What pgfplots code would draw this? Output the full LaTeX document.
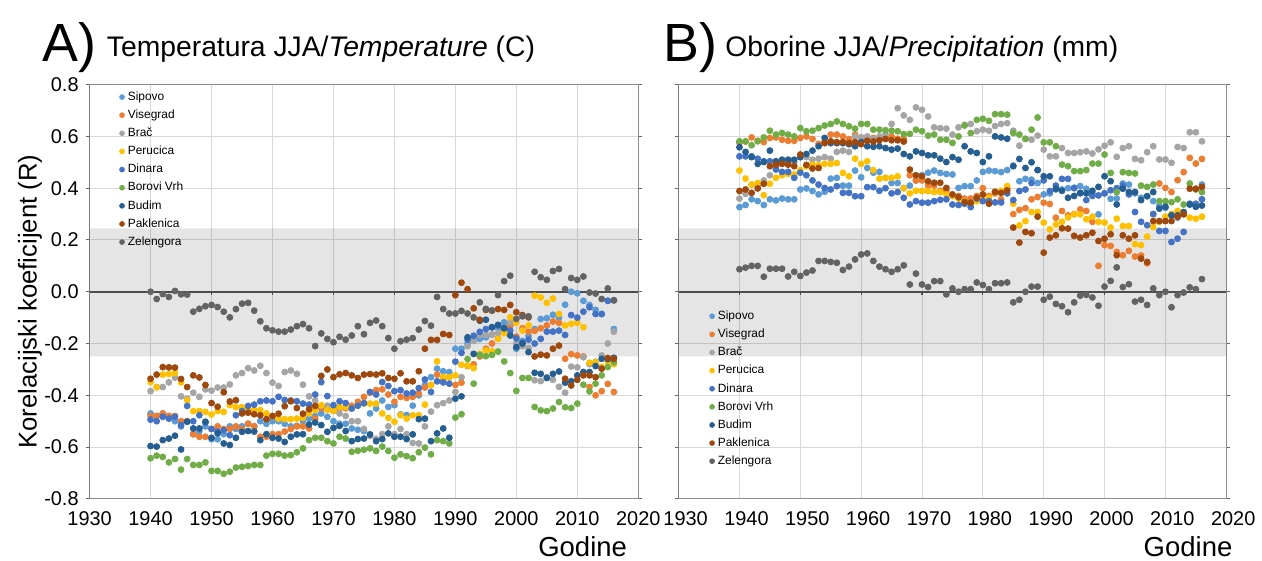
\documentclass[border=0pt]{standalone}
\usepackage{fontspec}
\setmainfont{Liberation Sans}
\usepackage{pgfplots}
\usepackage{pgfplotstable}
\pgfplotsset{compat=1.18}

\definecolor{csip}{HTML}{5B9BD5}
\definecolor{cvis}{HTML}{ED7D31}
\definecolor{cbra}{HTML}{A5A5A5}
\definecolor{cper}{HTML}{FFC000}
\definecolor{cdin}{HTML}{4472C4}
\definecolor{cbor}{HTML}{70AD47}
\definecolor{cbud}{HTML}{255E91}
\definecolor{cpak}{HTML}{9E480E}
\definecolor{czel}{HTML}{636363}
\definecolor{gridc}{HTML}{D9D9D9}

% A) temperature JJA
\pgfplotstableread{
year sip vis bra per din bor bud pak zel
1940 -.47 -.48 -.384 -.349 -.494 -.643 -.596 -.336 0.00
1941 -.48 -.48 -.368 -.369 -.50 -.633 -.598 -.32 -.028
1942 -.47 -.47 -.368 -.32 -.483 -.638 -.573 -.291 -.009
1943 -.48 -.48 -.35 -.318 -.49 -.659 -.567 -.292 -.02
1944 -.50 -.48 -.332 -.314 -.483 -.646 -.556 -.293 .003
1945 -.52 -.50 -.404 -.35 -.515 -.687 -.609 -.337 -.01
1946 -.50 -.50 -.413 -.419 -.441 -.646 -.502 -.368 -.011
1947 -.55 -.55 -.39 -.461 -.50 -.669 -.528 -.323 -.077
1948 -.54 -.56 -.406 -.461 -.477 -.669 -.528 -.331 -.066
1949 -.52 -.56 -.377 -.464 -.505 -.659 -.502 -.36 -.056
1950 -.57 -.53 -.382 -.474 -.53 -.692 -.564 -.43 -.051
1951 -.57 -.52 -.37 -.461 -.54 -.692 -.547 -.444 -.059
1952 -.55 -.53 -.37 -.464 -.535 -.703 -.586 -.388 -.077
1953 -.52 -.53 -.358 -.438 -.554 -.695 -.592 -.424 -.099
1954 -.53 -.52 -.323 -.446 -.477 -.679 -.564 -.419 -.067
1955 -.52 -.53 -.314 -.446 -.461 -.676 -.541 -.47 -.046
1956 -.51 -.51 -.295 -.451 -.441 -.673 -.538 -.467 -.043
1957 -.52 -.52 -.304 -.457 -.436 -.669 -.54 -.473 -.073
1958 -.50 -.56 -.286 -.457 -.423 -.669 -.573 -.477 -.114
1959 -.51 -.56 -.314 -.47 -.42 -.633 -.55 -.492 -.141
1960 -.50 -.55 -.351 -.48 -.423 -.626 -.564 -.48 -.149
1961 -.50 -.55 -.364 -.49 -.406 -.626 -.567 -.471 -.154
1962 -.51 -.54 -.31 -.492 -.418 -.633 -.58 -.442 -.154
1963 -.52 -.53 -.304 -.492 -.42 -.631 -.56 -.423 -.146
1964 -.518 -.52 -.317 -.49 -.423 -.62 -.551 -.449 -.133
1965 -.50 -.52 -.359 -.487 -.432 -.605 -.55 -.471 -.125
1966 -.49 -.528 -.404 -.47 -.436 -.573 -.513 -.454 -.141
1967 -.48 -.49 -.42 -.457 -.397 -.564 -.505 -.441 -.21
1968 -.47 -.45 -.44 -.438 -.349 -.564 -.515 -.325 -.161
1969 -.483 -.45 -.44 -.456 -.403 -.577 -.541 -.30 -.182
1970 -.50 -.46 -.46 -.46 -.438 -.586 -.526 -.33 -.195
1971 -.51 -.45 -.47 -.445 -.423 -.56 -.518 -.319 -.174
1972 -.51 -.45 -.48 -.445 -.43 -.567 -.538 -.314 -.185
1973 -.528 -.44 -.50 -.451 -.451 -.618 -.577 -.323 -.169
1974 -.533 -.425 -.50 -.44 -.44 -.614 -.569 -.333 -.133
1975 -.538 -.406 -.53 -.432 -.43 -.61 -.567 -.32 -.164
1976 -.47 -.39 -.557 -.432 -.387 -.605 -.551 -.318 -.12
1977 -.451 -.38 -.568 -.432 -.397 -.615 -.577 -.32 -.111
1978 -.42 -.377 -.55 -.47 -.349 -.598 -.569 -.315 -.133
1979 -.445 -.397 -.52 -.487 -.364 -.615 -.547 -.333 -.179
1980 -.438 -.425 -.55 -.502 -.384 -.641 -.56 -.336 -.22
1981 -.474 -.406 -.53 -.477 -.38 -.628 -.56 -.315 -.191
1982 -.476 -.41 -.55 -.49 -.393 -.635 -.569 -.346 -.185
1983 -.44 -.406 -.584 -.477 -.39 -.643 -.551 -.346 -.179
1984 -.40 -.393 -.586 -.477 -.372 -.62 -.492 -.307 -.146
1985 -.36 -.37 -.52 -.436 -.339 -.602 -.49 -.22 -.113
1986 -.33 -.36 -.463 -.361 -.387 -.628 -.577 -.186 -.131
1987 -.297 -.32 -.438 -.269 -.346 -.573 -.547 -.186 -.02
1988 -.307 -.34 -.43 -.329 -.35 -.577 -.528 -.163 -.067
1989 -.31 -.33 -.42 -.33 -.355 -.586 -.564 -.167 -.084
1990 -.22 -.36 -.387 -.323 -.27 -.486 -.413 -.013 -.084
1991 -.22 -.351 -.33 -.282 -.236 -.473 -.404 .035 -.074
1992 -.20 -.287 -.21 -.285 -.185 -.26 -.176 .01 -.084
1993 -.182 -.28 -.19 -.295 -.17 -.355 -.24 -.064 -.099
1994 -.182 -.25 -.167 -.24 -.155 -.244 -.112 -.108 -.041
1995 -.176 -.22 -.167 -.227 -.144 -.249 -.108 -.07 -.066
1996 -.165 -.20 -.165 -.23 -.137 -.244 -.137 -.073 -.072
1997 -.14 -.18 -.159 -.182 -.13 -.231 -.128 -.067 -.013
1998 -.118 -.15 -.14 -.16 -.14 -.269 -.141 -.07 .041
1999 -.13 -.13 -.118 -.099 -.15 -.314 -.169 -.051 .062
2000 -.22 -.173 -.20 -.12 -.18 -.383 -.214 -.079 -.105
2001 -.19 -.141 -.21 -.15 -.197 -.333 -.20 -.09 -.095
2002 -.17 -.154 -.217 -.13 -.185 -.333 -.233 -.099 -.095
2003 -.144 -.151 -.342 -.015 -.20 -.445 -.313 -.25 .077
2004 -.105 -.141 -.345 -.022 -.182 -.458 -.317 -.243 .056
2005 -.102 -.13 -.33 -.043 -.154 -.461 -.333 -.246 .046
2006 -.089 -.115 -.34 -.026 -.154 -.451 -.317 -.22 .08
2007 -.10 -.12 -.367 -.086 -.15 -.426 -.308 -.208 .088
2008 -.05 -.259 -.39 -.13 -.167 -.446 -.351 -.336 .01
2009 .00 -.241 -.289 -.124 -.09 -.449 -.346 -.362 .053
2010 -.006 -.246 -.292 -.12 -.10 -.432 -.323 -.34 .046
2011 -.035 -.25 -.253 -.137 -.077 -.359 -.31 -.323 .059
2012 -.051 -.368 -.28 -.274 -.06 -.385 -.31 -.323 -.003
2013 -.07 -.40 -.27 -.272 -.086 -.355 -.287 -.33 -.007
2014 -.086 -.384 -.246 -.29 -.086 -.323 -.259 -.297 -.028
2015 -.035 -.356 -.20 -.27 -.035 -.291 -.26 -.256 .013
2016 -.144 -.387 -.154 -.28 -.033 -.272 -.255 -.259 -.033
}\tempA

% B) precipitation JJA
\pgfplotstableread{
year sip vis bra per din bor bud pak zel
1940 .327 .575 .36 .468 .523 .581 .558 .389 .087
1941 .335 .58 .378 .437 .523 .581 .54 .395 .093
1942 .357 .596 .414 .414 .523 .566 .52 .382 .10
1943 .35 .583 .408 .42 .514 .581 .494 .399 .10
1944 .335 .578 .43 .373 .504 .596 .501 .417 .058
1945 .357 .594 .45 .417 .504 .622 .545 .485 .089
1946 .353 .596 .48 .44 .472 .607 .504 .491 .089
1947 .36 .587 .50 .45 .463 .613 .51 .494 .089
1948 .357 .583 .50 .455 .463 .607 .51 .491 .059
1949 .357 .583 .50 .453 .44 .60 .51 .485 .077
1950 .395 .594 .52 .47 .46 .632 .52 .53 .061
1951 .399 .60 .52 .485 .45 .62 .532 .49 .074
1952 .389 .59 .51 .491 .43 .622 .545 .476 .082
1953 .376 .571 .514 .489 .414 .632 .562 .478 .119
1954 .386 .58 .52 .494 .401 .642 .594 .574 .119
1955 .437 .607 .514 .494 .395 .648 .574 .581 .115
1956 .44 .607 .54 .497 .408 .658 .574 .578 .112
1957 .41 .60 .545 .459 .382 .648 .574 .578 .084
1958 .41 .59 .54 .446 .382 .639 .57 .574 .097
1959 .468 .607 .60 .514 .369 .63 .562 .578 .125
1960 .442 .596 .596 .494 .369 .648 .578 .57 .144
1961 .478 .591 .60 .504 .404 .648 .562 .583 .148
1962 .46 .594 .59 .47 .404 .626 .56 .58 .119
1963 .463 .59 .60 .437 .39 .626 .562 .585 .097
1964 .44 .596 .609 .44 .40 .624 .555 .59 .087
1965 .42 .60 .648 .44 .38 .622 .549 .585 .077
1966 .42 .591 .709 .446 .385 .62 .553 .585 .087
1967 .40 .591 .681 .40 .363 .609 .532 .58 .102
1968 .41 .45 .664 .38 .337 .61 .523 .472 .028
1969 .43 .43 .712 .39 .35 .626 .542 .45 .07
1970 .45 .43 .703 .389 .344 .62 .536 .446 .028
1971 .46 .41 .677 .389 .344 .603 .527 .427 .018
1972 .468 .41 .635 .385 .35 .607 .527 .421 .041
1973 .459 .39 .632 .385 .355 .587 .514 .421 .041
1974 .455 .39 .63 .376 .357 .587 .501 .401 -.01
1975 .453 .37 .607 .37 .337 .575 .52 .376 .013
1976 .401 .37 .635 .36 .335 .60 .51 .365 0
1977 .408 .36 .645 .35 .34 .642 .562 .347 .01
1978 .408 .36 .648 .337 .327 .613 .542 .344 .01
1979 .43 .37 .62 .35 .36 .664 .536 .363 .036
1980 .463 .40 .626 .355 .35 .668 .501 .376 .026
1981 .468 .37 .622 .363 .35 .66 .523 .34 .01
1982 .466 .38 .64 .385 .345 .686 .60 .386 .033
1983 .462 .357 .648 .39 .345 .686 .596 .382 .033
1984 .47 .40 .651 .408 .38 .684 .591 .391 .036
1985 .487 .30 .622 .34 .354 .613 .485 .248 -.041
1986 .427 .316 .564 .256 .389 .607 .513 .19 -.031
1987 .436 .323 .591 .273 .395 .59 .478 .231 0
1988 .433 .357 .587 .308 .42 .626 .50 .226 .02
1989 .42 .366 .603 .308 .47 .673 .47 .29 .02
1990 .376 .344 .549 .267 .43 .577 .446 .151 -.031
1991 .38 .339 .523 .241 .389 .577 .446 .209 -.019
1992 .395 .286 .523 .26 .41 .562 .398 .218 -.047
1993 .395 .312 .555 .27 .436 .491 .39 .245 -.056
1994 .40 .295 .536 .287 .436 .485 .363 .244 -.079
1995 .402 .30 .536 .299 .40 .466 .37 .216 -.041
1996 .408 .318 .539 .299 .38 .466 .382 .209 -.015
1997 .398 .312 .542 .28 .354 .47 .38 .218 -.012
1998 .38 .27 .534 .29 .37 .495 .39 .228 -.022
1999 .299 .10 .55 .27 .372 .495 .405 .196 -.054
2000 .38 .18 .564 .267 .38 .53 .446 .205 .02
2001 .359 .177 .577 .248 .392 .459 .427 .222 .042
2002 .36 .154 .521 .282 .40 .385 .337 .141 .094
2003 .418 .141 .555 .254 .41 .462 .398 .218 .018
2004 .414 .158 .562 .254 .376 .459 .385 .205 .029
2005 .38 .136 .513 .184 .308 .457 .385 .218 -.038
2006 .363 .14 .508 .18 .27 .41 .354 .128 -.031
2007 .369 .11 .539 .213 .257 .405 .369 .115 -.051
2008 .35 .30 .562 .25 .30 .414 .385 .273 .013
2009 .333 .418 .511 .27 .235 .35 .321 .273 -.013
2010 .324 .401 .511 .29 .235 .35 .328 .273 0
2011 .30 .385 .498 .30 .192 .346 .295 .273 -.06
2012 .286 .431 .559 .312 .205 .357 .295 .29 -.013
2013 .30 .462 .555 .305 .231 .337 .308 .299 -.003
2014 .337 .517 .616 .286 .34 .418 .337 .398 .017
2015 .33 .495 .616 .282 .34 .395 .328 .398 .01
2016 .414 .513 .581 .29 .357 .385 .333 .405 .049
}\tempB

\pgfplotsset{
  panel/.style={
    scale only axis,
    height=208pt,
    xmin=1930, xmax=2020, ymin=-0.8, ymax=0.8,
    xtick={1930,1940,1950,1960,1970,1980,1990,2000,2010,2020},
    xticklabels={1930,1940,1950,1960,1970,1980,1990,2000,2010,2020},
    ytick={-0.8,-0.6,-0.4,-0.2,0,0.2,0.4,0.6,0.8},
    grid=major,
    major grid style={draw=gridc, line width=0.5pt},
    axis line style={draw=black!45, line width=0.6pt},
    tick align=outside,
    major tick length=2pt,
    xtick style={draw=none},
    ytick style={draw=black!60, line width=0.5pt},
    tick label style={font=\fontsize{10}{12}\selectfont},
    xticklabel style={yshift=-1pt},
    legend cell align=left,
    legend image post style={mark size=1.2pt},
    legend style={draw=none, fill=none, inner sep=0pt, row sep=2.4pt,
      font=\fontsize{6}{7}\selectfont,
      nodes={inner sep=0.5pt, text height=4.5pt, text depth=1.2pt},
      /tikz/every odd column/.append style={column sep=1.2pt}},
  },
  pts/.style={only marks, mark=*, mark size=1.5pt, color=#1},
}

\newcommand{\panelback}{%
  \addplot[fill=black, fill opacity=0.1, draw=none, forget plot]
    coordinates {(1930,-0.25) (2020,-0.25) (2020,0.245) (1930,0.245) (1930,-0.25)};
  \addplot[black!70, line width=0.9pt, forget plot] coordinates {(1930,0) (2020,0)};
  \addplot[black!70, line width=0.6pt, ycomb, forget plot] coordinates {
    (1940,-0.012) (1950,-0.012) (1960,-0.012) (1970,-0.012)
    (1980,-0.012) (1990,-0.012) (2000,-0.012) (2010,-0.012)};
  \addplot[black!65, line width=0.8pt, forget plot] coordinates {(1930,-0.8) (1930,0.8)};
}

\newcommand{\allseries}[1]{%
  \addplot[pts=csip] table[x=year, y=sip] {#1}; \addlegendentry{Sipovo}
  \addplot[pts=cvis] table[x=year, y=vis] {#1}; \addlegendentry{Visegrad}
  \addplot[pts=cbra] table[x=year, y=bra] {#1}; \addlegendentry{Brač}
  \addplot[pts=cper] table[x=year, y=per] {#1}; \addlegendentry{Perucica}
  \addplot[pts=cdin] table[x=year, y=din] {#1}; \addlegendentry{Dinara}
  \addplot[pts=cbor] table[x=year, y=bor] {#1}; \addlegendentry{Borovi Vrh}
  \addplot[pts=cbud] table[x=year, y=bud] {#1}; \addlegendentry{Budim}
  \addplot[pts=cpak] table[x=year, y=pak] {#1}; \addlegendentry{Paklenica}
  \addplot[pts=czel] table[x=year, y=zel] {#1}; \addlegendentry{Zelengora}
}

\begin{document}
\begin{tikzpicture}
\path (0,0) rectangle (631pt,281.5pt);

% panel A
\begin{axis}[panel, at={(45pt,31pt)}, anchor=south west, width=275.5pt,
  yticklabels={-0.8,-0.6,-0.4,-0.2,0.0,0.2,0.4,0.6,0.8},
  legend style={at={(0.054,0.987)}, anchor=north west}]
  \panelback
  \allseries{\tempA}
\end{axis}

% panel B
\begin{axis}[panel, at={(340.75pt,31pt)}, anchor=south west, width=275pt,
  yticklabels={},
  xticklabel style={xshift=3.5pt},
  legend style={at={(0.056,0.458)}, anchor=north west}]
  \panelback
  \allseries{\tempB}
\end{axis}

\node[anchor=base west, inner sep=0pt, font=\fontsize{27}{30}\selectfont] at (21pt,250.5pt) {A)};
\node[anchor=base west, inner sep=0pt, font=\fontsize{14.2}{17}\selectfont] at (53.5pt,253pt) {Temperatura JJA/\textit{Temperature} (C)};
\node[anchor=base west, inner sep=0pt, font=\fontsize{27}{30}\selectfont] at (333pt,250.5pt) {B)};
\node[anchor=base west, inner sep=0pt, font=\fontsize{14.2}{17}\selectfont] at (364pt,253pt) {Oborine JJA/\textit{Precipitation} (mm)};

\node[rotate=90, inner sep=0pt, font=\fontsize{12.9}{15}\selectfont] at (15pt,130pt) {Korelacijski koeficijent (R)};
\node[anchor=base east, inner sep=0pt, font=\fontsize{13.8}{16}\selectfont] at (315pt,2pt) {Godine};
\node[anchor=base east, inner sep=0pt, font=\fontsize{13.8}{16}\selectfont] at (619pt,2pt) {Godine};
\end{tikzpicture}
\end{document}
